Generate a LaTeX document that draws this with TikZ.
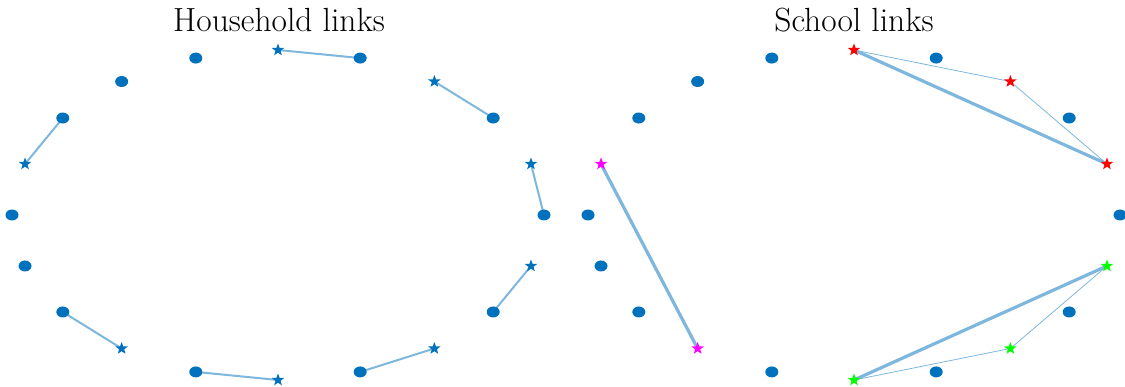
\documentclass[tikz,border=0pt]{standalone}
\usetikzlibrary{shapes.geometric,backgrounds}
\definecolor{mblue}{RGB}{0,114,189}
\definecolor{lnk}{RGB}{125,183,222}
\definecolor{pred}{RGB}{255,0,0}
\definecolor{pgreen}{RGB}{0,255,0}
\definecolor{pmag}{RGB}{255,0,255}
\tikzset{
  dotn/.style={ellipse,fill=mblue,draw=none,minimum width=13pt,minimum height=11pt,inner sep=0pt},
  stb/.style={star,star points=5,star point ratio=2.4,minimum size=13pt,inner sep=0pt,draw=none,fill=#1},
  bst/.style={stb=mblue},
  rst/.style={stb=pred},
  gst/.style={stb=pgreen},
  mst/.style={stb=pmag},
  hlink/.style={lnk,line width=2pt},
  thk/.style={lnk,line width=3.2pt},
  thn/.style={lnk,line width=0.8pt},
  ttl/.style={font=\fontsize{33.5}{38}\selectfont,inner sep=0pt}
}
\begin{document}
\begin{tikzpicture}[x=1pt,y=-1pt]
\useasboundingbox (0,0) rectangle (1125,387);
\node[ttl] (t1) at (279,20) {Household links};
\node[ttl] (t2) at (854,20) {School links};
\foreach \k/\s in {0/bst,1/dotn,2/bst,3/dotn,4/bst,5/dotn,6/bst,7/dotn,8/bst,9/dotn,10/bst,11/dotn,12/bst,13/dotn,14/dotn,15/dotn,16/bst,17/dotn,18/dotn,19/dotn}
  \node[\s] (L\k) at ({278+266*sin(\k*18)},{215-165*cos(\k*18)}) {};
\foreach \k/\s in {0/rst,1/dotn,2/rst,3/dotn,4/rst,5/dotn,6/gst,7/dotn,8/gst,9/dotn,10/gst,11/dotn,12/mst,13/dotn,14/dotn,15/dotn,16/mst,17/dotn,18/dotn,19/dotn}
  \node[\s] (R\k) at ({854+266*sin(\k*18)},{215-165*cos(\k*18)}) {};
\begin{pgfonlayer}{background}
\foreach \a/\b in {0/1,2/3,4/5,6/7,8/9,10/11,12/13,16/17}
  \draw[hlink] (L\a.center) -- (L\b.center);
\draw[thk] (R0.center) -- (R4.center);
\draw[thn] (R0.center) -- (R2.center);
\draw[thn] (R2.center) -- (R4.center);
\draw[thk] (R6.center) -- (R10.center);
\draw[thn] (R10.center) -- (R8.center);
\draw[thn] (R8.center) -- (R6.center);
\draw[thk] (R12.center) -- (R16.center);
\end{pgfonlayer}
\end{tikzpicture}
\end{document}
